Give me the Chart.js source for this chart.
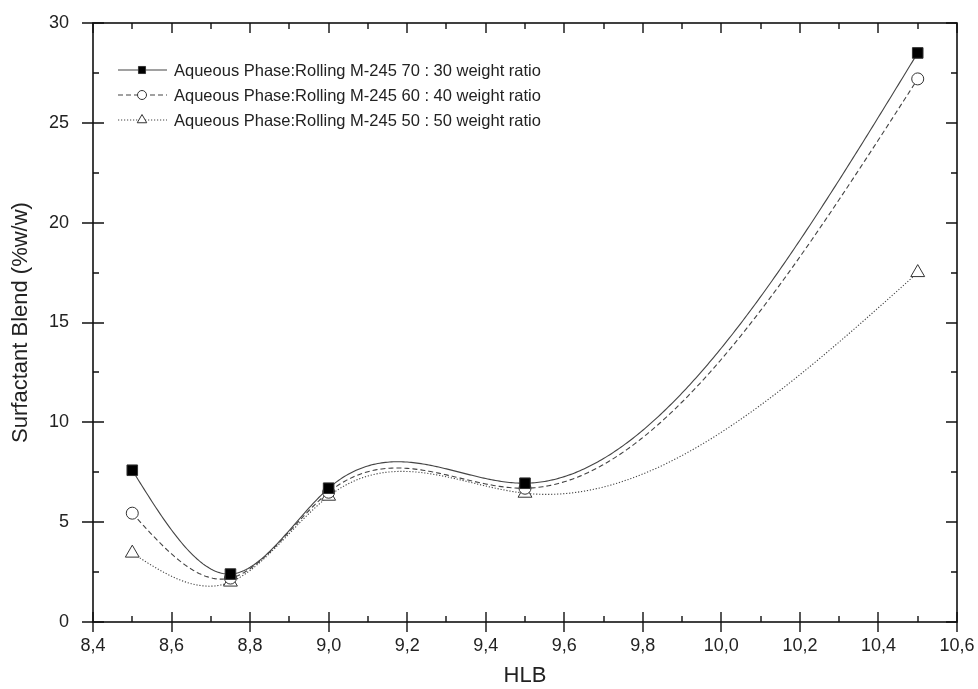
<!DOCTYPE html>
<html>
<head>
<meta charset="utf-8">
<script src="https://cdn.jsdelivr.net/npm/chart.js@4/dist/chart.umd.min.js"></script>
<style>
  html, body { margin: 0; padding: 0; background: #fff; }
  canvas { display: block; }
</style>
</head>
<body>
<canvas id="hlbChart" width="978" height="689"></canvas>
<script>
// HLB values and surfactant blend (%w/w)
const hlb = [8.5, 8.75, 9.0, 9.5, 10.5];
const ratio70 = [7.6, 2.4, 6.7, 6.95, 28.5];
const ratio60 = [5.45, 2.2, 6.5, 6.7, 27.2];
const ratio50 = [3.45, 2.0, 6.3, 6.45, 17.5];

const seriesLabels = [
  'Aqueous Phase:Rolling M-245 70 : 30 weight ratio',
  'Aqueous Phase:Rolling M-245 60 : 40 weight ratio',
  'Aqueous Phase:Rolling M-245 50 : 50 weight ratio'
];
const xRange = [8.4, 10.6];
const yRange = [0, 30];

const FONT = "'Liberation Sans', Arial, sans-serif";
const INK = '#222';

const styles = [
  {pointStyle: 'rect', radius: 7.5, fill: '#000', dash: [], legendRadius: 5},
  {pointStyle: 'circle', radius: 6, fill: '#fff', dash: [5, 3], legendRadius: 4.5},
  {pointStyle: 'triangle', radius: 8, fill: '#fff', dash: [1.2, 1.8], legendRadius: 5.5}
];

function makeSet(label, ys, st) {
  return {
    label: label,
    data: hlb.map((x, i) => ({x: x, y: ys[i]})),
    showLine: false,
    pointStyle: st.pointStyle,
    pointRadius: st.radius,
    pointBackgroundColor: st.fill,
    pointBorderColor: '#333',
    pointBorderWidth: 1,
    pointHoverRadius: st.radius
  };
}

// natural cubic spline through the points of one dataset
function naturalSpline(xs, ys) {
  const n = xs.length;
  const h = [];
  for (let i = 0; i < n - 1; i++) h.push(xs[i + 1] - xs[i]);
  const a = [], b = [], c = [], d = [];
  for (let i = 1; i < n - 1; i++) {
    a.push(h[i - 1]);
    b.push(2 * (h[i - 1] + h[i]));
    c.push(h[i]);
    d.push(6 * ((ys[i + 1] - ys[i]) / h[i] - (ys[i] - ys[i - 1]) / h[i - 1]));
  }
  const m = d.length;
  for (let i = 1; i < m; i++) {
    const w = a[i] / b[i - 1];
    b[i] -= w * c[i - 1];
    d[i] -= w * d[i - 1];
  }
  const inner = new Array(m);
  for (let i = m - 1; i >= 0; i--) {
    inner[i] = (d[i] - (i < m - 1 ? c[i] * inner[i + 1] : 0)) / b[i];
  }
  const M = [0].concat(inner, [0]);
  return function(x) {
    let k = 0;
    while (k < n - 2 && x > xs[k + 1]) k++;
    const hk = h[k];
    const t1 = xs[k + 1] - x, t0 = x - xs[k];
    return M[k] * t1 * t1 * t1 / (6 * hk) + M[k + 1] * t0 * t0 * t0 / (6 * hk)
      + (ys[k] / hk - M[k] * hk / 6) * t1 + (ys[k + 1] / hk - M[k + 1] * hk / 6) * t0;
  };
}

const splinePlugin = {
  id: 'splineLines',
  beforeDatasetsDraw(chart) {
    const ctx = chart.ctx;
    const xs = chart.scales.x, ys = chart.scales.y;
    ctx.save();
    chart.data.datasets.forEach((ds, idx) => {
      const px = ds.data.map(p => p.x), py = ds.data.map(p => p.y);
      const f = naturalSpline(px, py);
      const x0 = px[0], x1 = px[px.length - 1];
      const steps = 400;
      ctx.beginPath();
      for (let s = 0; s <= steps; s++) {
        const xv = x0 + (x1 - x0) * s / steps;
        const X = xs.getPixelForValue(xv), Y = ys.getPixelForValue(f(xv));
        if (s === 0) ctx.moveTo(X, Y); else ctx.lineTo(X, Y);
      }
      ctx.setLineDash(styles[idx].dash);
      ctx.strokeStyle = '#444';
      ctx.lineWidth = 1.1;
      ctx.stroke();
    });
    ctx.restore();
  }
};

const framePlugin = {
  id: 'frameTicks',
  afterDraw(chart) {
    const ctx = chart.ctx;
    const a = chart.chartArea;
    const xs = chart.scales.x, ys = chart.scales.y;
    ctx.save();
    ctx.strokeStyle = '#111';
    ctx.lineWidth = 1.6;
    ctx.strokeRect(a.left, a.top, a.right - a.left, a.bottom - a.top);
    ctx.lineWidth = 1.4;
    ctx.beginPath();
    for (let i = 0; i <= 22; i++) {
      const X = Math.round(xs.getPixelForValue(xRange[0] + i * 0.1));
      const major = i % 2 === 0;
      const len = major ? 10 : 6;
      ctx.moveTo(X, a.bottom + (major ? 10 : 0));
      ctx.lineTo(X, a.bottom - len);
      ctx.moveTo(X, a.top);
      ctx.lineTo(X, a.top + len);
    }
    for (let i = 0; i <= 12; i++) {
      const Y = Math.round(ys.getPixelForValue(yRange[0] + i * 2.5));
      const major = i % 2 === 0;
      const len = major ? 11 : 6;
      ctx.moveTo(a.left - (major ? 11 : 0), Y);
      ctx.lineTo(a.left + len, Y);
      ctx.moveTo(a.right, Y);
      ctx.lineTo(a.right - len, Y);
    }
    ctx.stroke();

    // legend inside the plot area
    ctx.font = '16.5px ' + FONT;
    ctx.textBaseline = 'middle';
    ctx.textAlign = 'left';
    const rows = [70, 95, 120];
    seriesLabels.forEach((lab, idx) => {
      const st = styles[idx];
      const y = rows[idx];
      ctx.beginPath();
      ctx.setLineDash(st.dash);
      ctx.strokeStyle = '#444';
      ctx.lineWidth = 1.1;
      ctx.moveTo(118, y);
      ctx.lineTo(167, y);
      ctx.stroke();
      ctx.setLineDash([]);
      ctx.fillStyle = st.fill;
      ctx.strokeStyle = '#333';
      ctx.lineWidth = 1;
      Chart.helpers.drawPoint(ctx, {pointStyle: st.pointStyle, radius: st.legendRadius, rotation: 0, borderWidth: 1}, 142, y);
      ctx.fillStyle = INK;
      ctx.fillText(lab, 174, y + 1);
    });
    ctx.restore();
  }
};

new Chart(document.getElementById('hlbChart'), {
  type: 'scatter',
  data: {
    datasets: [
      makeSet(seriesLabels[0], ratio70, styles[0]),
      makeSet(seriesLabels[1], ratio60, styles[1]),
      makeSet(seriesLabels[2], ratio50, styles[2])
    ]
  },
  options: {
    responsive: false,
    animation: false,
    devicePixelRatio: 1,
    layout: { padding: { top: 23, right: 21, left: 0, bottom: 0 } },
    plugins: { legend: { display: false }, tooltip: { enabled: false } },
    scales: {
      x: {
        type: 'linear',
        min: xRange[0],
        max: xRange[1],
        afterFit: s => { s.height = 67; s.paddingLeft = 0; s.paddingRight = 0; },
        grid: { display: false, drawTicks: false },
        border: { display: false },
        ticks: {
          stepSize: 0.2,
          padding: 13,
          color: INK,
          font: { family: FONT, size: 18 },
          maxRotation: 0,
          callback: v => v.toFixed(1).replace('.', ',')
        },
        title: { display: true, text: 'HLB', color: INK, font: { family: FONT, size: 22 }, padding: { top: 0, bottom: 0 } }
      },
      y: {
        min: yRange[0],
        max: yRange[1],
        afterFit: s => { s.width = 93; s.paddingTop = 0; s.paddingBottom = 0; },
        grid: { display: false, drawTicks: false },
        border: { display: false },
        ticks: {
          stepSize: 5,
          padding: 24,
          color: INK,
          font: { family: FONT, size: 18 }
        },
        title: { display: true, text: 'Surfactant Blend (%w/w)', color: INK, font: { family: FONT, size: 22 }, padding: { top: 8, bottom: 0 } }
      }
    }
  },
  plugins: [splinePlugin, framePlugin]
});
</script>
</body>
</html>
